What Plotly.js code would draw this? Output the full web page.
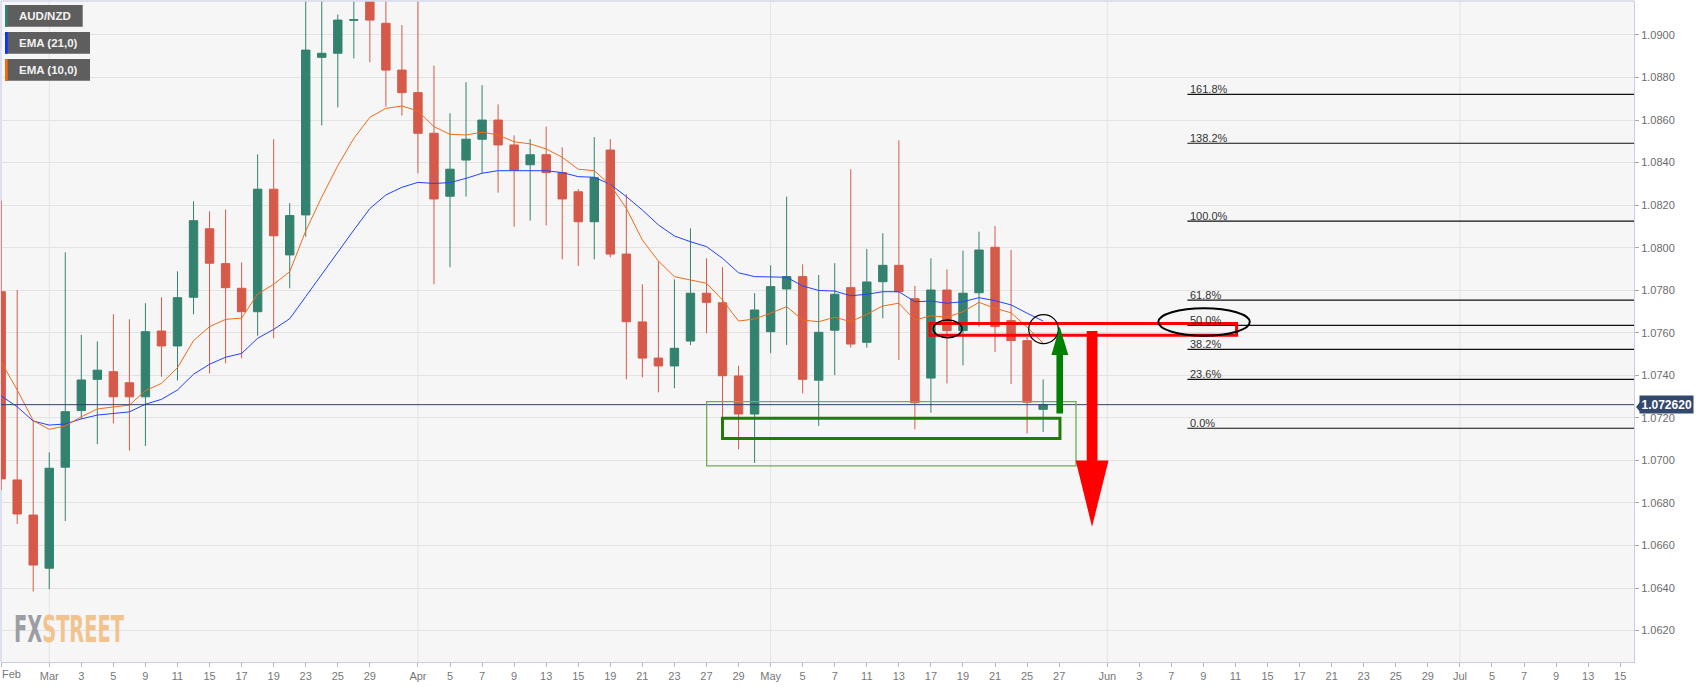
<!DOCTYPE html>
<html>
<head>
<meta charset="utf-8">
<script src="https://cdn.plot.ly/plotly-3.0.1.min.js"></script>
<style>
  html, body { margin: 0; padding: 0; background: #ffffff; }
  #wrap { position: relative; width: 1707px; height: 687px; overflow: hidden; }
  #chart { position: absolute; left: 0; top: 0; width: 1707px; height: 687px; }
  #logo { position: absolute; left: 14px; top: 611px; font-family: 'Liberation Sans Narrow', 'DejaVu Sans Condensed', 'Liberation Sans', sans-serif;
          font-weight: bold; font-size: 37px; line-height: 37px; transform: scaleX(0.7); transform-origin: 0 0; white-space: nowrap; pointer-events: none; display: inline-block; }
</style>
</head>
<body>
<div id="wrap">
  <div id="chart"></div>
  <div id="logo"><span style="color:#9c9ea4">FX</span><span style="color:#f2c38d">STREET</span></div>
</div>
<script>
// ---------------- DATA ----------------
const symbol = 'AUD/NZD';
const dates = [
  '2021-02-24','2021-02-25','2021-02-26',
  '2021-03-01','2021-03-02','2021-03-03','2021-03-04','2021-03-05','2021-03-08','2021-03-09','2021-03-10','2021-03-11','2021-03-12',
  '2021-03-15','2021-03-16','2021-03-17','2021-03-18','2021-03-19','2021-03-22','2021-03-23','2021-03-24','2021-03-25','2021-03-26',
  '2021-03-29','2021-03-30','2021-03-31',
  '2021-04-01','2021-04-02','2021-04-05','2021-04-06','2021-04-07','2021-04-08','2021-04-09','2021-04-12','2021-04-13','2021-04-14',
  '2021-04-15','2021-04-16','2021-04-19','2021-04-20','2021-04-21','2021-04-22','2021-04-23','2021-04-26','2021-04-27','2021-04-28',
  '2021-04-29','2021-04-30',
  '2021-05-03','2021-05-04','2021-05-05','2021-05-06','2021-05-07','2021-05-10','2021-05-11','2021-05-12','2021-05-13','2021-05-14',
  '2021-05-17','2021-05-18','2021-05-19','2021-05-20','2021-05-21','2021-05-24','2021-05-25','2021-05-26'
];
const open = [1.07793,1.06908,1.06743,1.06493,1.06968,1.07234,1.07381,1.07417,1.07365,1.07299,
  1.07608,1.07538,1.07767,1.08089,1.07925,1.07809,1.07699,1.08275,1.07966,1.08154,
  1.08895,1.08914,1.09069,1.09170,1.09055,1.08835,1.08729,1.08538,1.08242,1.08412,
  1.08510,1.08600,1.08483,1.08390,1.08437,1.08353,1.08263,1.08122,1.08459,1.07970,
  1.07651,1.07481,1.07444,1.07561,1.07786,1.07741,1.07397,1.07218,1.07605,1.07806,
  1.07864,1.07377,1.07612,1.07812,1.07555,1.07840,1.07917,1.07760,1.07387,1.07801,
  1.07610,1.07788,1.08002,1.07657,1.07563,1.07240];
const high = [1.08220,1.07801,1.07185,1.07038,1.07978,1.07590,1.07560,1.07687,1.07663,1.07739,
  1.07767,1.07889,1.08218,1.08171,1.08180,1.07931,1.08439,1.08510,1.08209,1.09300,
  1.09250,1.09097,1.09220,1.09250,1.09210,1.09047,1.09200,1.08856,1.08632,1.08778,
  1.08764,1.08674,1.08528,1.08511,1.08569,1.08472,1.08276,1.08520,1.08510,1.08251,
  1.07828,1.07937,1.07851,1.08091,1.07950,1.07908,1.07445,1.07786,1.07917,1.08240,
  1.07922,1.07872,1.07927,1.08369,1.07994,1.08068,1.08505,1.07821,1.07950,1.07898,
  1.07986,1.08075,1.08102,1.07989,1.07580,1.07381];
const low = [1.06861,1.06701,1.06383,1.06394,1.06715,1.07195,1.07076,1.07174,1.07046,1.07068,
  1.07393,1.07375,1.07687,1.07409,1.07456,1.07480,1.07586,1.07574,1.07809,1.08052,
  1.08575,1.08660,1.08890,1.08872,1.08663,1.08621,1.08350,1.07828,1.07908,1.08240,
  1.08350,1.08259,1.08099,1.08127,1.08105,1.07945,1.07914,1.07945,1.07955,1.07381,
  1.07391,1.07320,1.07339,1.07542,1.07598,1.07141,1.07052,1.06988,1.07504,1.07543,
  1.07315,1.07162,1.07401,1.07530,1.07530,1.07668,1.07472,1.07146,1.07224,1.07362,
  1.07447,1.07629,1.07510,1.07359,1.07127,1.07134];
const close = [1.06913,1.06748,1.06508,1.06963,1.07229,1.07378,1.07424,1.07299,1.07299,1.07605,
  1.07538,1.07765,1.08127,1.07927,1.07812,1.07699,1.08275,1.08056,1.08151,1.08929,
  1.08914,1.09070,1.09072,1.09070,1.08835,1.08729,1.08538,1.08229,1.08369,1.08510,
  1.08600,1.08483,1.08365,1.08437,1.08353,1.08229,1.08122,1.08329,1.07970,1.07652,
  1.07481,1.07444,1.07527,1.07786,1.07743,1.07398,1.07218,1.07707,1.07817,1.07864,
  1.07381,1.07602,1.07781,1.07547,1.07839,1.07917,1.07793,1.07271,1.07801,1.07610,
  1.07786,1.07989,1.07629,1.07563,1.07273,1.07262];
const ema21 = [1.07303,1.07252,1.07185,1.07166,1.07171,1.07195,1.07213,1.07221,1.07228,1.07264,
  1.07287,1.07331,1.07405,1.07452,1.07485,1.07503,1.07574,1.07616,1.07666,1.07770,
  1.07875,1.07978,1.08083,1.08184,1.08248,1.08284,1.08307,1.08302,1.08306,1.08326,
  1.08350,1.08362,1.08362,1.08365,1.08362,1.08353,1.08334,1.08331,1.08298,1.08240,
  1.08177,1.08107,1.08055,1.08028,1.08005,1.07950,1.07882,1.07864,1.07861,1.07861,
  1.07820,1.07799,1.07796,1.07774,1.07781,1.07793,1.07793,1.07746,1.07749,1.07739,
  1.07746,1.07765,1.07751,1.07731,1.07692,1.07655];
const ema10 = [1.07464,1.07331,1.07187,1.07146,1.07162,1.07205,1.07242,1.07252,1.07260,1.07328,
  1.07362,1.07436,1.07563,1.07629,1.07663,1.07669,1.07782,1.07828,1.07887,1.08079,
  1.08238,1.08386,1.08514,1.08613,1.08655,1.08666,1.08643,1.08569,1.08533,1.08530,
  1.08543,1.08530,1.08498,1.08488,1.08464,1.08425,1.08369,1.08362,1.08295,1.08185,
  1.08036,1.07937,1.07864,1.07848,1.07833,1.07754,1.07655,1.07665,1.07692,1.07723,
  1.07660,1.07652,1.07673,1.07652,1.07687,1.07726,1.07739,1.07660,1.07680,1.07673,
  1.07699,1.07743,1.07715,1.07694,1.07626,1.07551];
const lastPrice = 1.072620;
const fibLabels = ['161.8%','138.2%','100.0%','61.8%','50.0%','38.2%','23.6%','0.0%'];
const fibValues = [1.08721,1.08491,1.08125,1.07753,1.07635,1.07522,1.07381,1.07151];
const fibStartDate = '2021-06-08';
const tickDates = ['2021-02-24','2021-03-01','2021-03-03','2021-03-05','2021-03-09','2021-03-11','2021-03-15','2021-03-17',
  '2021-03-19','2021-03-23','2021-03-25','2021-03-29','2021-04-01','2021-04-05','2021-04-07','2021-04-09','2021-04-13',
  '2021-04-15','2021-04-19','2021-04-21','2021-04-23','2021-04-27','2021-04-29','2021-05-03','2021-05-05','2021-05-07',
  '2021-05-11','2021-05-13','2021-05-17','2021-05-19','2021-05-21','2021-05-25','2021-05-27','2021-06-01','2021-06-03',
  '2021-06-07','2021-06-09','2021-06-11','2021-06-15','2021-06-17','2021-06-21','2021-06-23','2021-06-25','2021-06-29',
  '2021-07-01','2021-07-05','2021-07-07','2021-07-09','2021-07-13','2021-07-15'];
const tickLabels = ['Feb','Mar','3','5','9','11','15','17','19','23','25','29','Apr','5','7','9','13','15','19','21','23',
  '27','29','May','5','7','11','13','17','19','21','25','27','Jun','3','7','9','11','15','17','21','23','25','29',
  'Jul','5','7','9','13','15'];
const yTickVals = [1.062,1.064,1.066,1.068,1.070,1.072,1.074,1.076,1.078,1.080,1.082,1.084,1.086,1.088,1.090];
const legendItems = ['AUD/NZD','EMA (21,0)','EMA (10,0)'];

// ---------------- helpers ----------------
const DAY = 86400000;
const BASE = Date.UTC(2021, 1, 24);
function tIndex(s) {               // trading-day index (weekdays only) from the first candle
  const p = s.split('-').map(Number);
  const t = Date.UTC(p[0], p[1] - 1, p[2]);
  let n = 0, cur = BASE;
  const dir = t >= BASE ? 1 : -1;
  while (cur !== t) { cur += dir * DAY; const wd = new Date(cur).getUTCDay(); if (wd !== 0 && wd !== 6) n += dir; }
  return n;
}
const X = dates.map(tIndex);
const XR = [-0.01, 101.86];
const YR = [1.060521, 1.091598];
const PL = 1, PT = 1, PW = 1633, PH = 661;
const px2x = px => (px - PL) / PW;
const py2y = py => (PT + PH - py) / PH;

const GREEN = '#33826f', RED = '#d65a49';
const BLUE = '#2341ff', ORANGE = '#f06c1c';

const traces = [
  { type: 'candlestick', x: X, open: open, high: high, low: low, close: close, name: symbol,
    increasing: { line: { color: GREEN, width: 1 }, fillcolor: GREEN },
    decreasing: { line: { color: RED, width: 1 }, fillcolor: RED },
    whiskerwidth: 0, hoverinfo: 'skip', showlegend: false },
  { type: 'scatter', mode: 'lines', x: X, y: ema21, name: 'EMA (21,0)', line: { color: BLUE, width: 1 }, hoverinfo: 'skip' },
  { type: 'scatter', mode: 'lines', x: X, y: ema10, name: 'EMA (10,0)', line: { color: ORANGE, width: 1 }, hoverinfo: 'skip' }
];

const shapes = [];
const annotations = [];

// month gridlines
tickDates.forEach((d, i) => {
  if (/^[A-Z]/.test(tickLabels[i]) && i > 0) {
    const xi = tIndex(d);
    shapes.push({ type: 'line', xref: 'x', yref: 'paper', x0: xi, x1: xi, y0: 0, y1: 1, layer: 'below', line: { color: '#e4e4e4', width: 1 } });
  }
});
// plot frame top/left
shapes.push({ type: 'line', xref: 'paper', yref: 'paper', x0: 0, x1: 1, y0: 1, y1: 1, line: { color: '#d3d6ea', width: 1.5 } });
shapes.push({ type: 'line', xref: 'paper', yref: 'paper', x0: 0, x1: 0, y0: 0, y1: 1, layer: 'below', line: { color: '#d3d6ea', width: 1.5 } });

// last price line
shapes.push({ type: 'line', xref: 'paper', yref: 'y', x0: 0, x1: 1, y0: lastPrice, y1: lastPrice, line: { color: '#2f4266', width: 1 } });

// fibonacci levels
const fibX = tIndex(fibStartDate);
fibValues.forEach((v, i) => {
  shapes.push({ type: 'line', xref: 'x', yref: 'y', x0: fibX, x1: XR[1], y0: v, y1: v, line: { color: '#111111', width: 1.2 } });
  annotations.push({ xref: 'x', yref: 'y', x: fibX, y: v, xanchor: 'left', yanchor: 'bottom', yshift: -3, xshift: 1, showarrow: false,
    text: fibLabels[i], font: { family: 'Liberation Sans, Arial, sans-serif', size: 11, color: '#333333' } });
});

// analyst drawings
shapes.push({ type: 'rect', xref: 'x', yref: 'y', x0: 44.01, x1: 67.05, y0: 1.06974, y1: 1.07276, line: { color: '#6fae52', width: 1.3 }, fillcolor: 'rgba(0,0,0,0)' });
shapes.push({ type: 'rect', xref: 'x', yref: 'y', x0: 45.0, x1: 66.05, y0: 1.07103, y1: 1.07198, line: { color: '#237a08', width: 3 }, fillcolor: 'rgba(0,0,0,0)' });
shapes.push({ type: 'rect', xref: 'x', yref: 'y', x0: 57.94, x1: 77.07, y0: 1.07588, y1: 1.07643, line: { color: '#ff0000', width: 3 }, fillcolor: 'rgba(0,0,0,0)' });
shapes.push({ type: 'circle', xref: 'x', yref: 'y', x0: 58.15, x1: 59.94, y0: 1.07577, y1: 1.07660, line: { color: '#000000', width: 1.5 } });
shapes.push({ type: 'circle', xref: 'x', yref: 'y', x0: 64.1, x1: 65.95, y0: 1.07549, y1: 1.07685, line: { color: '#000000', width: 1.2 } });
shapes.push({ type: 'circle', xref: 'x', yref: 'y', x0: 72.19, x1: 77.89, y0: 1.07586, y1: 1.07715, line: { color: '#000000', width: 2 } });
shapes.push({ type: 'path', xref: 'x', yref: 'y', fillcolor: '#008000', line: { width: 0 },
  path: 'M 65.83,1.07221 L 66.24,1.07221 L 66.24,1.07496 L 66.57,1.07496 L 66.03,1.07629 L 65.52,1.07496 L 65.83,1.07496 Z' });
shapes.push({ type: 'path', xref: 'x', yref: 'y', fillcolor: '#ff0000', line: { width: 0 },
  path: 'M 67.72,1.07608 L 68.39,1.07608 L 68.39,1.06999 L 69.08,1.06999 L 68.05,1.06688 L 67.03,1.06999 L 67.72,1.06999 Z' });

// legend boxes (top-left)
const legendColors = [GREEN, '#0a33ff', '#ff6a00'];
const legendRows = [[5, 26.7, 82.7], [32, 53.7, 90], [59, 80.7, 90]];
legendItems.forEach((t, i) => {
  const r = legendRows[i];
  shapes.push({ type: 'rect', xref: 'paper', yref: 'paper', x0: px2x(5), x1: px2x(r[2]), y0: py2y(r[1]), y1: py2y(r[0]), fillcolor: '#5e5e5e', line: { width: 0 } });
  shapes.push({ type: 'rect', xref: 'paper', yref: 'paper', x0: px2x(5), x1: px2x(7.7), y0: py2y(r[1]), y1: py2y(r[0]), fillcolor: legendColors[i], line: { width: 0 } });
  annotations.push({ xref: 'paper', yref: 'paper', x: px2x(16.5), y: py2y((r[0] + r[1]) / 2), xanchor: 'left', yanchor: 'middle', showarrow: false,
    text: '<b>' + t + '</b>', font: { family: 'Liberation Sans, Arial, sans-serif', size: 11.5, color: '#f2f2f2' } });
});

// last price tag
shapes.push({ type: 'path', xref: 'paper', yref: 'paper', fillcolor: '#33486d', line: { width: 0 },
  path: 'M ' + px2x(1636) + ',' + py2y(406.9) + ' L ' + px2x(1640) + ',' + py2y(402) + ' L ' + px2x(1640) + ',' + py2y(411.8) + ' Z' });
annotations.push({ xref: 'paper', yref: 'y', x: 1, y: lastPrice, xanchor: 'left', yanchor: 'middle', xshift: 5, showarrow: false,
  text: '<b>' + lastPrice.toFixed(6) + '</b>', bgcolor: '#33486d', borderpad: 1.5,
  font: { family: 'Liberation Sans, Arial, sans-serif', size: 12, color: '#ffffff' } });

// first tick label at the left edge
annotations.push({ xref: 'paper', yref: 'paper', x: px2x(0), y: py2y(673.5), xanchor: 'left', yanchor: 'middle', showarrow: false,
  text: tickLabels[0], font: { family: 'Liberation Sans, Arial, sans-serif', size: 11, color: '#777777' } });

const tickVals = tickDates.map(tIndex);
const tickText = tickLabels.map((t, i) => i === 0 ? '' : t);

const layout = {
  width: 1707, height: 687,
  margin: { l: PL, r: 1707 - PL - PW, t: PT, b: 687 - PT - PH, pad: 0 },
  paper_bgcolor: '#ffffff', plot_bgcolor: '#f6f6f6',
  showlegend: false, boxgap: 0.25, hovermode: false,
  xaxis: { range: XR, showgrid: false, zeroline: false, showline: true, linecolor: '#c9cde3', linewidth: 1,
    tickmode: 'array', tickvals: tickVals, ticktext: tickText, ticks: 'outside', ticklen: 4, tickcolor: '#b5b5b5',
    tickfont: { family: 'Liberation Sans, Arial, sans-serif', size: 11, color: '#777777' },
    rangeslider: { visible: false }, fixedrange: true },
  yaxis: { side: 'right', range: YR, tickmode: 'array', tickvals: yTickVals, ticktext: yTickVals.map(v => v.toFixed(4)),
    showgrid: true, gridcolor: '#e3e3e3', gridwidth: 1, zeroline: false, showline: true, linecolor: '#c9cde3', linewidth: 1,
    ticks: 'outside', ticklen: 4, tickcolor: '#a8a8a8',
    tickfont: { family: 'Liberation Sans, Arial, sans-serif', size: 11, color: '#6b6b6b' }, fixedrange: true },
  shapes: shapes, annotations: annotations
};

Plotly.newPlot('chart', traces, layout, { displayModeBar: false, staticPlot: true });

// fit the watermark logo to its width in the reference (about 110 px)
(function fitLogo() {
  const el = document.getElementById('logo');
  el.style.transform = 'none';
  const w = el.getBoundingClientRect().width;
  const s = w > 0 ? 110 / w : 0.7;
  el.style.transform = 'scaleX(' + s.toFixed(3) + ')';
})();
</script>
</body>
</html>
